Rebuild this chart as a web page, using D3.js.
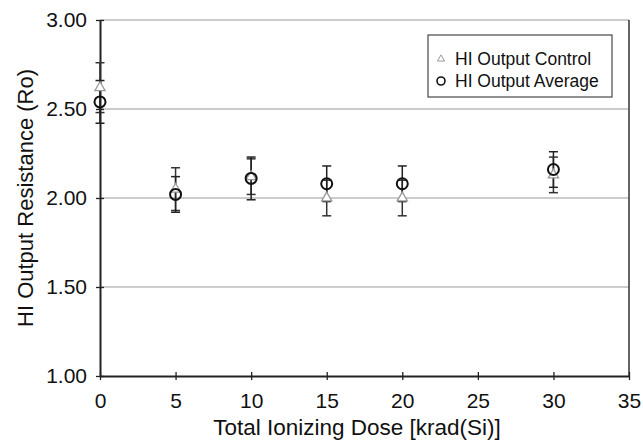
<!DOCTYPE html>
<html><head><meta charset="utf-8">
<script src="https://cdn.jsdelivr.net/npm/d3@7"></script>
<style>body{margin:0;background:#fff}svg{display:block}text{font-family:"Liberation Sans",Arial,sans-serif;fill:#111}</style>
</head><body><svg id="c" width="643" height="440"></svg>
<script>
const doses = [0, 5, 10, 15, 20, 30];
const controlValues = [2.62, 2.05, 2.12, 2.00, 2.00, 2.13];
const controlErrors = [0.14, 0.12, 0.10, 0.10, 0.10, 0.10];
const averageValues = [2.54, 2.02, 2.11, 2.08, 2.08, 2.16];
const averageErrors = [0.12, 0.10, 0.12, 0.10, 0.10, 0.10];
const xTicks = [0, 5, 10, 15, 20, 25, 30, 35];
const yTicks = [1.00, 1.50, 2.00, 2.50, 3.00];
const legendLabels = ["HI Output Control", "HI Output Average"];

const svg = d3.select("#c");
const m = {l: 100, r: 629, t: 20, b: 376};
const x = d3.scaleLinear().domain([0, 35]).range([m.l, m.r]);
const y = d3.scaleLinear().domain([1, 3]).range([m.b, m.t]);

// gridlines
svg.append("g").selectAll("line").data(yTicks.slice(1)).join("line")
  .attr("x1", m.l).attr("x2", m.r).attr("y1", d => y(d)).attr("y2", d => y(d))
  .attr("stroke", "#999").attr("stroke-width", 1.2);
// right border
svg.append("line").attr("x1", m.r).attr("x2", m.r).attr("y1", m.t).attr("y2", m.b)
  .attr("stroke", "#333").attr("stroke-width", 1.5);

// axes
const yAxis = svg.append("g").attr("transform", `translate(${m.l},0)`)
  .call(d3.axisLeft(y).tickValues(yTicks).tickFormat(d3.format(".2f")).tickSizeInner(4).tickSizeOuter(0).tickPadding(9));
yAxis.selectAll(".tick line").attr("x2", -4).attr("x1", 4);
const xAxis = svg.append("g").attr("transform", `translate(0,${m.b})`)
  .call(d3.axisBottom(x).tickValues(xTicks).tickSizeInner(4).tickSizeOuter(0).tickPadding(13));
xAxis.selectAll(".tick line").attr("y1", -4).attr("y2", 4);
[yAxis, xAxis].forEach(a => {
  a.select(".domain").attr("stroke", "#222").attr("stroke-width", 2);
  a.selectAll(".tick line").attr("stroke", "#222").attr("stroke-width", 1.3);
  a.selectAll("text").style("font-size", "21px").attr("fill", "#111");
});

// titles
svg.append("text").attr("x", 357).attr("y", 435).attr("text-anchor", "middle")
  .style("font-size", "22.5px").text("Total Ionizing Dose [krad(Si)]");
svg.append("text").attr("transform", `translate(33,${(m.t + m.b) / 2}) rotate(-90)`)
  .attr("text-anchor", "middle").style("font-size", "22px").text("HI Output Resistance (Ro)");

// error bars
function errBars(vals, errs, color) {
  const g = svg.append("g").attr("stroke", color).attr("stroke-width", 1.5);
  doses.forEach((d, i) => {
    const cx = x(d), lo = y(vals[i] - errs[i]), hi = y(vals[i] + errs[i]);
    g.append("line").attr("x1", cx).attr("x2", cx).attr("y1", lo).attr("y2", hi);
    g.append("line").attr("x1", cx - 4.5).attr("x2", cx + 4.5).attr("y1", lo).attr("y2", lo);
    g.append("line").attr("x1", cx - 4.5).attr("x2", cx + 4.5).attr("y1", hi).attr("y2", hi);
  });
}
errBars(controlValues, controlErrors, "#333");
errBars(averageValues, averageErrors, "#222");

const tri = d3.symbol().type(d3.symbolTriangle).size(45);
svg.append("g").selectAll("path").data(doses).join("path")
  .attr("d", tri).attr("transform", (d, i) => `translate(${x(d)},${y(controlValues[i])})`)
  .attr("fill", "#fff").attr("stroke", "#999").attr("stroke-width", 1.3);
svg.append("g").selectAll("circle").data(doses).join("circle")
  .attr("cx", d => x(d)).attr("cy", (d, i) => y(averageValues[i])).attr("r", 5.5)
  .attr("fill", "none").attr("stroke", "#111").attr("stroke-width", 2);

// legend
const lg = svg.append("g");
lg.append("rect").attr("x", 428).attr("y", 35).attr("width", 184).attr("height", 62)
  .attr("fill", "#fff").attr("stroke", "#555").attr("stroke-width", 1.3);
lg.append("path").attr("d", d3.symbol().type(d3.symbolTriangle).size(22))
  .attr("transform", "translate(441,59)").attr("fill", "#fff").attr("stroke", "#999").attr("stroke-width", 1);
lg.append("circle").attr("cx", 441).attr("cy", 81).attr("r", 4).attr("fill", "none").attr("stroke", "#111").attr("stroke-width", 1.6);
lg.selectAll("text.l").data(legendLabels).join("text").attr("class", "l")
  .attr("x", 455).attr("y", (d, i) => 65 + i * 22).style("font-size", "17.5px").text(d => d);
</script></body></html>
